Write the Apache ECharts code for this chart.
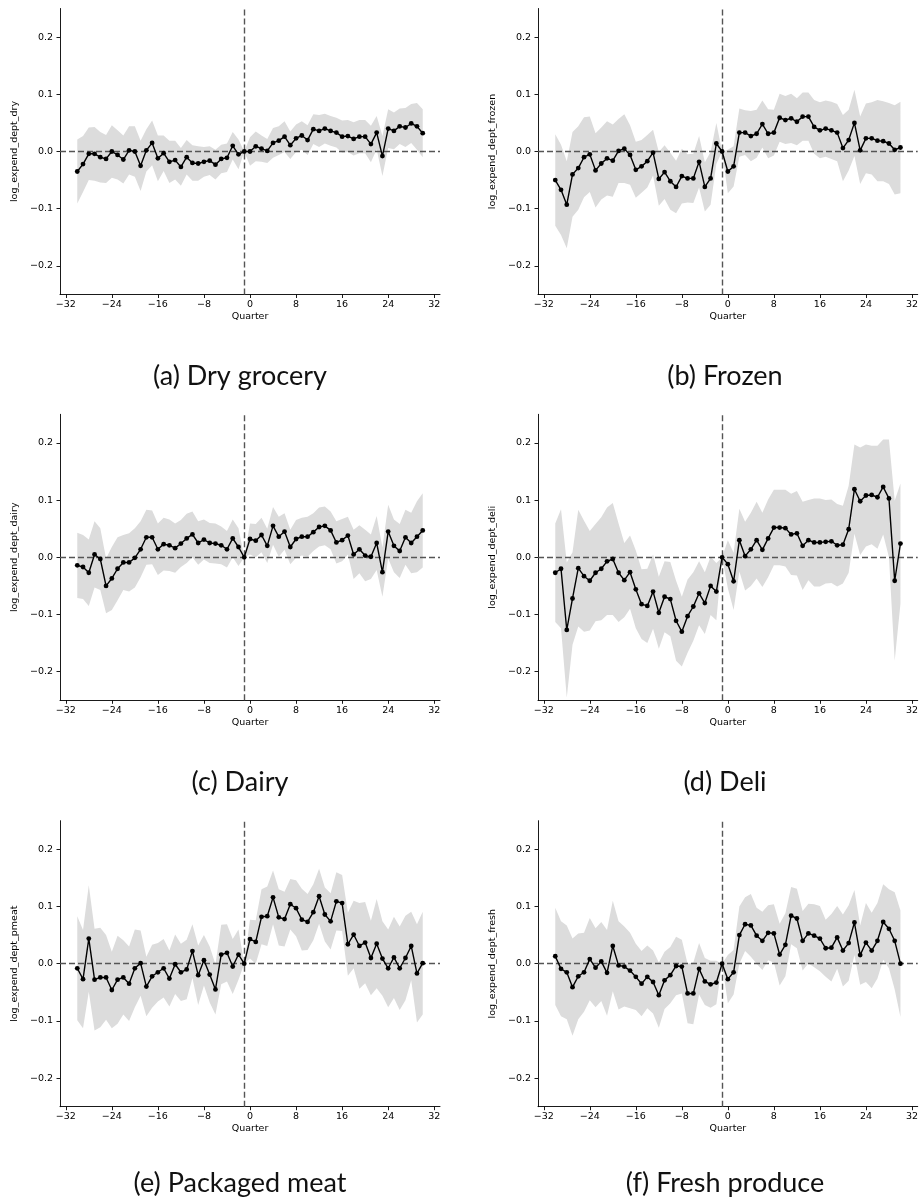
<!DOCTYPE html>
<html><head><meta charset="utf-8">
<script src="https://cdn.jsdelivr.net/npm/echarts@6/dist/echarts.min.js"></script>
<style>html,body{margin:0;padding:0;background:#fff}#c{width:921px;height:1199px}</style>
</head><body><div id="c"></div>
<script>
const quarters = [-30,-29,-28,-27,-26,-25,-24,-23,-22,-21,-20,-19,-18,-17,-16,-15,-14,-13,-12,-11,-10,-9,-8,-7,-6,-5,-4,-3,-2,-1,0,1,2,3,4,5,6,7,8,9,10,11,12,13,14,15,16,17,18,19,20,21,22,23,24,25,26,27,28,29,30];
const xTicks = [-32,-24,-16,-8,0,8,16,24,32];
const yTicks = [-0.2,-0.1,0,0.1,0.2];
const eventQuarter = -1;

const dryCoef = [-0.035,-0.022,-0.004,-0.004,-0.010,-0.013,0.000,-0.006,-0.014,0.002,0.000,-0.025,0.002,0.015,-0.012,-0.003,-0.018,-0.015,-0.027,-0.010,-0.020,-0.021,-0.018,-0.016,-0.023,-0.013,-0.011,0.010,-0.005,0,
 0.000,0.009,0.005,0.001,0.015,0.019,0.026,0.011,0.023,0.028,0.020,0.039,0.036,0.040,0.036,0.033,0.026,0.027,0.022,0.026,0.026,0.013,0.033,-0.008,0.040,0.036,0.044,0.042,0.049,0.044,0.032];
const dryCI = [0.056,0.049,0.046,0.047,0.044,0.042,0.046,0.043,0.042,0.042,0.044,0.044,0.037,0.039,0.040,0.031,0.037,0.034,0.033,0.030,0.031,0.030,0.026,0.025,0.026,0.025,0.025,0.024,0.026,0,
 0.025,0.026,0.023,0.021,0.026,0.025,0.027,0.024,0.024,0.025,0.026,0.026,0.028,0.026,0.026,0.026,0.028,0.028,0.029,0.029,0.029,0.032,0.029,0.035,0.034,0.032,0.031,0.034,0.034,0.041,0.042];

const frozenCoef = [-0.050,-0.067,-0.093,-0.040,-0.029,-0.010,-0.005,-0.033,-0.021,-0.012,-0.016,0.001,0.005,-0.006,-0.032,-0.026,-0.017,-0.002,-0.048,-0.036,-0.052,-0.062,-0.043,-0.047,-0.047,-0.018,-0.062,-0.047,0.014,0,
 -0.035,-0.026,0.033,0.033,0.027,0.031,0.048,0.031,0.033,0.059,0.055,0.058,0.052,0.061,0.061,0.043,0.037,0.040,0.037,0.033,0.006,0.020,0.050,0.002,0.023,0.023,0.019,0.018,0.014,0.003,0.007];
const frozenCI = [0.080,0.079,0.076,0.074,0.073,0.070,0.066,0.065,0.063,0.065,0.063,0.056,0.060,0.052,0.049,0.046,0.046,0.040,0.047,0.047,0.050,0.046,0.048,0.042,0.043,0.045,0.043,0.046,0.036,0,
 0.038,0.035,0.042,0.039,0.044,0.042,0.041,0.043,0.040,0.042,0.042,0.043,0.041,0.042,0.042,0.047,0.049,0.049,0.050,0.050,0.058,0.053,0.058,0.059,0.061,0.063,0.071,0.070,0.071,0.078,0.080];

const dairyCoef = [-0.014,-0.017,-0.027,0.005,-0.003,-0.050,-0.037,-0.020,-0.009,-0.009,-0.001,0.014,0.035,0.035,0.014,0.023,0.021,0.016,0.024,0.033,0.040,0.025,0.031,0.025,0.024,0.021,0.014,0.033,0.018,0,
 0.032,0.029,0.039,0.020,0.055,0.036,0.045,0.018,0.032,0.036,0.036,0.044,0.053,0.055,0.047,0.026,0.030,0.038,0.005,0.014,0.003,0.001,0.025,-0.026,0.045,0.020,0.011,0.035,0.025,0.036,0.047];
const dairyCI = [0.057,0.056,0.058,0.058,0.054,0.048,0.055,0.055,0.048,0.051,0.052,0.049,0.048,0.047,0.045,0.046,0.045,0.043,0.041,0.043,0.040,0.038,0.035,0.035,0.035,0.033,0.032,0.033,0.033,0,
 0.027,0.029,0.030,0.030,0.033,0.035,0.032,0.030,0.033,0.033,0.035,0.033,0.034,0.034,0.033,0.037,0.037,0.033,0.043,0.042,0.045,0.039,0.047,0.043,0.047,0.046,0.047,0.048,0.053,0.062,0.065];

const deliCoef = [-0.027,-0.020,-0.127,-0.072,-0.019,-0.033,-0.041,-0.027,-0.020,-0.007,-0.003,-0.027,-0.040,-0.026,-0.056,-0.082,-0.085,-0.060,-0.097,-0.069,-0.073,-0.111,-0.130,-0.103,-0.086,-0.063,-0.080,-0.050,-0.060,0,
 -0.012,-0.042,0.030,0.002,0.014,0.030,0.013,0.033,0.052,0.052,0.051,0.040,0.042,0.020,0.030,0.026,0.026,0.027,0.028,0.021,0.022,0.049,0.119,0.098,0.108,0.109,0.105,0.123,0.103,-0.041,0.024];
const deliCI = [0.086,0.104,0.118,0.081,0.102,0.097,0.087,0.085,0.090,0.094,0.098,0.086,0.065,0.064,0.068,0.061,0.065,0.065,0.063,0.062,0.065,0.070,0.061,0.064,0.060,0.056,0.054,0.051,0.050,0,
 0.042,0.050,0.055,0.060,0.064,0.067,0.065,0.068,0.066,0.066,0.067,0.071,0.074,0.077,0.070,0.077,0.077,0.073,0.073,0.072,0.068,0.076,0.078,0.094,0.089,0.086,0.090,0.083,0.103,0.140,0.105];

const pmeatCoef = [-0.008,-0.027,0.044,-0.028,-0.024,-0.024,-0.046,-0.028,-0.024,-0.035,-0.008,0.001,-0.040,-0.022,-0.015,-0.008,-0.026,-0.001,-0.015,-0.010,0.022,-0.020,0.006,-0.019,-0.045,0.016,0.019,-0.005,0.016,0,
 0.043,0.038,0.082,0.083,0.116,0.081,0.078,0.104,0.097,0.077,0.073,0.090,0.118,0.086,0.074,0.109,0.106,0.034,0.051,0.031,0.037,0.010,0.035,0.009,-0.008,0.011,-0.008,0.010,0.031,-0.017,0.001];
const pmeatCI = [0.091,0.086,0.093,0.089,0.087,0.074,0.067,0.077,0.065,0.065,0.068,0.057,0.052,0.055,0.051,0.051,0.049,0.052,0.050,0.052,0.047,0.052,0.044,0.049,0.044,0.052,0.050,0.048,0.044,0,
 0.034,0.038,0.048,0.052,0.047,0.049,0.048,0.044,0.049,0.054,0.049,0.049,0.048,0.047,0.049,0.051,0.049,0.055,0.059,0.075,0.071,0.065,0.078,0.065,0.068,0.071,0.073,0.074,0.060,0.086,0.090];

const freshCoef = [0.013,-0.009,-0.015,-0.041,-0.022,-0.015,0.008,-0.007,0.004,-0.016,0.031,-0.003,-0.005,-0.012,-0.023,-0.035,-0.023,-0.032,-0.055,-0.029,-0.020,-0.004,-0.005,-0.052,-0.052,-0.009,-0.031,-0.036,-0.033,0,
 -0.027,-0.015,0.050,0.069,0.067,0.049,0.040,0.054,0.053,0.016,0.033,0.084,0.079,0.040,0.053,0.049,0.044,0.027,0.028,0.046,0.023,0.036,0.072,0.015,0.037,0.023,0.040,0.073,0.061,0.040,0.000];
const freshCI = [0.085,0.083,0.082,0.085,0.075,0.069,0.072,0.069,0.069,0.075,0.079,0.077,0.070,0.066,0.058,0.057,0.055,0.055,0.057,0.050,0.049,0.051,0.047,0.052,0.054,0.045,0.041,0.041,0.038,0,
 0.042,0.039,0.050,0.047,0.055,0.049,0.051,0.048,0.051,0.054,0.055,0.050,0.052,0.052,0.052,0.055,0.057,0.050,0.059,0.055,0.063,0.066,0.057,0.052,0.069,0.066,0.066,0.066,0.069,0.085,0.093];

const yNames = ['log_expend_dept_dry','log_expend_dept_frozen','log_expend_dept_dairy','log_expend_dept_deli','log_expend_dept_pmeat','log_expend_dept_fresh'];
const captions = ['(a) Dry grocery','(b) Frozen','(c) Dairy','(d) Deli','(e) Packaged meat','(f) Fresh produce'];
const coefs = [dryCoef, frozenCoef, dairyCoef, deliCoef, pmeatCoef, freshCoef];
const cis = [dryCI, frozenCI, dairyCI, deliCI, pmeatCI, freshCI];

const colLeft = [60, 538];
const rowTop = [8.5, 414.3, 820.7];
const plotW = 380, plotH = 286;
const capX = [240, 725];
const capY = [376, 782, 1183];

const tickFont = 'DejaVu Sans';
const grids = [], xAxes = [], yAxes = [], series = [], graphics = [];

function fmtY(v){ const s = Math.abs(v).toFixed(1); return v < -1e-9 ? '\u2212' + s : s; }
function fmtX(v){ return v < 0 ? '\u2212' + Math.abs(v) : String(v); }

for (let i = 0; i < 6; i++) {
  const c = i % 2, r = Math.floor(i / 2);
  grids.push({left: colLeft[c], top: rowTop[r], width: plotW, height: plotH});
  xAxes.push({
    type: 'value', gridIndex: i, min: -33, max: 33,
    name: 'Quarter', nameLocation: 'middle', nameGap: 17,
    nameTextStyle: {fontFamily: tickFont, fontSize: 9.5, color: '#000'},
    axisLine: {show: true, onZero: false, lineStyle: {color: '#000', width: 0.9}},
    axisTick: {show: true, inside: false, length: 3.5, customValues: xTicks, lineStyle: {color: '#000', width: 0.9}},
    axisLabel: {customValues: xTicks, formatter: fmtX, fontFamily: tickFont, fontSize: 9.5, color: '#000', margin: 5},
    splitLine: {show: false}
  });
  yAxes.push({
    type: 'value', gridIndex: i, min: -0.25, max: 0.25,
    name: yNames[i], nameLocation: 'middle', nameGap: 40, nameRotate: 90,
    nameTextStyle: {fontFamily: tickFont, fontSize: 9.5, color: '#000'},
    axisLine: {show: true, onZero: false, lineStyle: {color: '#000', width: 0.9}},
    axisTick: {show: true, inside: false, length: 3.5, customValues: yTicks, lineStyle: {color: '#000', width: 0.9}},
    axisLabel: {customValues: yTicks, formatter: fmtY, fontFamily: tickFont, fontSize: 9.5, color: '#000', margin: 7},
    splitLine: {show: false}
  });
  const coef = coefs[i], ci = cis[i];
  series.push({
    type: 'custom', xAxisIndex: i, yAxisIndex: i, z: 1, silent: true,
    data: [[quarters[0], coef[0]]],
    renderItem: function (params, api) {
      const pts = [];
      for (let k = 0; k < quarters.length; k++) pts.push(api.coord([quarters[k], coef[k] + ci[k]]));
      for (let k = quarters.length - 1; k >= 0; k--) pts.push(api.coord([quarters[k], coef[k] - ci[k]]));
      return {type: 'polygon', shape: {points: pts}, style: {fill: '#dcdcdc', stroke: null}};
    },
    markLine: {
      silent: true, symbol: ['none', 'none'], label: {show: false},
      lineStyle: {type: [6, 3], color: '#555', width: 1.4},
      emphasis: {disabled: true},
      data: [{xAxis: eventQuarter}, {yAxis: 0}]
    }
  });
  series.push({
    type: 'line', xAxisIndex: i, yAxisIndex: i, z: 5, silent: true,
    data: quarters.map((q, k) => [q, coef[k]]),
    symbol: 'circle', symbolSize: 4.8, showSymbol: true,
    itemStyle: {color: '#000'},
    lineStyle: {color: '#000', width: 1.4},
    animation: false
  });
  graphics.push({
    type: 'text', x: capX[c], y: capY[r],
    style: {text: captions[i], font: '27px Lato', fill: '#111', textAlign: 'center', textVerticalAlign: 'middle'}
  });
}

const chart = echarts.init(document.getElementById('c'), null, {renderer: 'canvas'});
chart.setOption({
  animation: false,
  backgroundColor: '#fff',
  grid: grids, xAxis: xAxes, yAxis: yAxes, series: series, graphic: graphics
});
</script>
</body></html>
